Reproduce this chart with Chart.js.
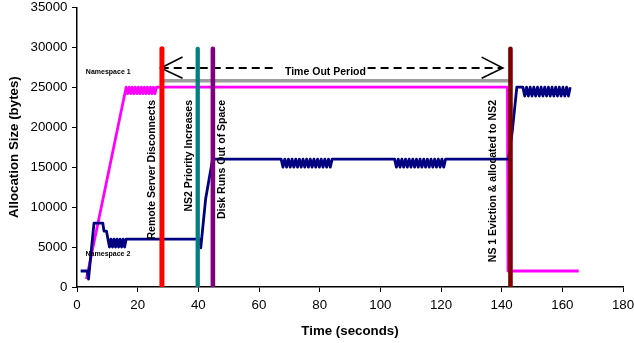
<!DOCTYPE html>
<html><head><meta charset="utf-8">
<script src="https://cdn.jsdelivr.net/npm/chart.js@4/dist/chart.umd.min.js"></script>
<style>html,body{margin:0;padding:0;background:#fff;}canvas{display:block;}</style>
</head><body>
<canvas id="c" width="634" height="343"></canvas>
<script>
// ---------- data ----------
const xTicks = [0, 20, 40, 60, 80, 100, 120, 140, 160, 180];
const yTicks = [0, 5000, 10000, 15000, 20000, 25000, 30000, 35000];

// Namespace 1 (magenta)
const ns1Time = [3.1, 16.2, 16.7, 17.2, 17.7, 18.2, 18.7, 19.2, 19.7, 20.2, 20.7, 21.2, 21.7, 22.2, 22.7, 23.2, 23.7, 24.2, 24.7, 25.2, 25.7, 26.2, 141.9, 142.1, 165.4];
const ns1Bytes = [1000, 25000, 24200, 25000, 24200, 25000, 24200, 25000, 24200, 25000, 24200, 25000, 24200, 25000, 24200, 25000, 24200, 25000, 24200, 25000, 24200, 25000, 25000, 2000, 2000];

// Namespace 2 (navy)
const ns2Time = [1.2, 3.4, 3.8, 5.6, 8.5, 8.9, 9.7, 10.2,
  10.7, 11.2, 11.7, 12.2, 12.7, 13.2, 13.7, 14.2, 14.7, 15.2, 15.7, 16.2,
  40.4, 40.8, 42.4, 44.7,
  67.3, 67.9, 68.5, 69.1, 69.7, 70.3, 70.9, 71.5, 72.1, 72.7, 73.3, 73.9, 74.5, 75.1, 75.7, 76.3, 76.9, 77.5, 78.1, 78.7, 79.3, 79.9, 80.5, 81.1, 81.7, 82.3, 82.9, 83.5, 84.1,
  104.7, 105.3, 105.9, 106.5, 107.1, 107.7, 108.3, 108.9, 109.5, 110.1, 110.7, 111.3, 111.9, 112.5, 113.1, 113.7, 114.3, 114.9, 115.5, 116.1, 116.7, 117.3, 117.9, 118.5, 119.1, 119.7, 120.3, 120.9, 121.5,
  142.3, 143.5, 145.0,
  147.0, 147.6, 148.2, 148.8, 149.4, 150.0, 150.6, 151.2, 151.8, 152.4, 153.0, 153.6, 154.2, 154.8, 155.4, 156.0, 156.6, 157.2, 157.8, 158.4, 159.0, 159.6, 160.2, 160.8, 161.4, 162.0, 162.6];
const ns2Bytes = [2000, 2000, 1000, 8000, 8000, 7000, 7000, 6000,
  5000, 6000, 5000, 6000, 5000, 6000, 5000, 6000, 5000, 6000, 5000, 6000,
  6000, 4900, 11000, 16000,
  16000, 15000, 16000, 15000, 16000, 15000, 16000, 15000, 16000, 15000, 16000, 15000, 16000, 15000, 16000, 15000, 16000, 15000, 16000, 15000, 16000, 15000, 16000, 15000, 16000, 15000, 16000, 15000, 16000,
  16000, 15000, 16000, 15000, 16000, 15000, 16000, 15000, 16000, 15000, 16000, 15000, 16000, 15000, 16000, 15000, 16000, 15000, 16000, 15000, 16000, 15000, 16000, 15000, 16000, 15000, 16000, 15000, 16000,
  16000, 19500, 25000,
  25000, 23900, 25000, 23900, 25000, 23900, 25000, 23900, 25000, 23900, 25000, 23900, 25000, 23900, 25000, 23900, 25000, 23900, 25000, 23900, 25000, 23900, 25000, 23900, 25000, 23900, 25000];

// events (vertical markers)
const eventTime = [28.0, 39.8, 44.8, 142.9];
const eventTop = 29800;
const eventLabels = ['Remote Server Disconnects', 'NS2 Priority Increases', 'Disk Runs Out of Space', 'NS 1 Eviction & allocated to NS2'];
const eventLabelTime = [24.9, 36.8, 47.9, 137.3];
const eventLabelTop = 23400;

// time-out period annotation
const timeoutBandTime = [27.6, 143.5];
const timeoutBandBytes = 25800;
const timeoutArrowTime = [27.6, 65.1, 95.8, 140.4];
const timeoutArrowBytes = 27400;
const arrowHeadTime = [34.8, 27.6, 133.4, 140.4];
const arrowHeadBytes = [28770, 27400, 26120];
const timeoutLabel = 'Time Out Period';
const timeoutLabelPos = [81.9, 26900];

// series name labels
const seriesNames = ['Namespace 1', 'Namespace 2'];
const seriesNameTime = [10.3, 10.2];
const seriesNameBytes = [26940, 4100];

// ---------- styles ----------
const FONT = '"Liberation Sans", Arial, Helvetica, sans-serif';
const eventColors = ['#FF0000', '#008080', '#800080', '#800000'];
const eventWidths = [5, 4.3, 4.6, 4.6];

const pts = (xs, ys) => xs.map((t, i) => ({x: t, y: ys[i]}));

const datasets = [];
eventTime.forEach((t, i) => {
  datasets.push({
    data: [{x: t, y: 0}, {x: t, y: eventTop}],
    borderColor: eventColors[i], borderWidth: eventWidths[i],
    borderCapStyle: 'round', pointRadius: 0,
    clip: {left: 10, right: 10, top: 10, bottom: 0}
  });
});
datasets.push({
  data: [
    {x: timeoutArrowTime[0], y: timeoutArrowBytes}, {x: timeoutArrowTime[1], y: timeoutArrowBytes},
    {x: (timeoutArrowTime[1] + timeoutArrowTime[2]) / 2, y: null},
    {x: timeoutArrowTime[2], y: timeoutArrowBytes}, {x: timeoutArrowTime[3], y: timeoutArrowBytes}
  ],
  borderColor: '#000', borderWidth: 2, borderDash: [8, 5], pointRadius: 0, spanGaps: false
});
datasets.push({
  data: [{x: arrowHeadTime[0], y: arrowHeadBytes[0]}, {x: arrowHeadTime[1], y: arrowHeadBytes[1]}, {x: arrowHeadTime[0], y: arrowHeadBytes[2]}],
  borderColor: '#000', borderWidth: 1.6, pointRadius: 0
});
datasets.push({
  data: [{x: arrowHeadTime[2], y: arrowHeadBytes[0]}, {x: arrowHeadTime[3], y: arrowHeadBytes[1]}, {x: arrowHeadTime[2], y: arrowHeadBytes[2]}],
  borderColor: '#000', borderWidth: 1.6, pointRadius: 0
});
datasets.push({
  data: [{x: timeoutBandTime[0], y: timeoutBandBytes}, {x: timeoutBandTime[1], y: timeoutBandBytes}],
  borderColor: '#9c9c9c', borderWidth: 3.5, pointRadius: 0
});
datasets.push({
  label: 'Namespace 2', data: pts(ns2Time, ns2Bytes),
  borderColor: '#000080', borderWidth: 2.8, pointRadius: 0, borderJoinStyle: 'round'
});
datasets.push({
  label: 'Namespace 1', data: pts(ns1Time, ns1Bytes),
  borderColor: '#FF00FF', borderWidth: 2.8, pointRadius: 0, borderJoinStyle: 'round'
});

const notes = {
  id: 'notes',
  afterDatasetsDraw(chart) {
    const {ctx} = chart;
    const x = chart.scales.x, y = chart.scales.y;
    ctx.save();
    ctx.fillStyle = '#000';
    ctx.font = 'bold 10.5px ' + FONT;
    eventLabels.forEach((txt, i) => {
      ctx.save();
      ctx.translate(x.getPixelForValue(eventLabelTime[i]), y.getPixelForValue(eventLabelTop));
      ctx.rotate(-Math.PI / 2);
      ctx.textAlign = 'right';
      ctx.textBaseline = 'middle';
      ctx.fillText(txt, 0, 0);
      ctx.restore();
    });
    ctx.textAlign = 'center';
    ctx.textBaseline = 'middle';
    ctx.fillText(timeoutLabel, x.getPixelForValue(timeoutLabelPos[0]), y.getPixelForValue(timeoutLabelPos[1]));
    ctx.font = 'bold 7px ' + FONT;
    seriesNames.forEach((txt, i) => {
      ctx.fillText(txt, x.getPixelForValue(seriesNameTime[i]), y.getPixelForValue(seriesNameBytes[i]));
    });
    ctx.restore();
  }
};

new Chart(document.getElementById('c'), {
  type: 'line',
  data: {datasets},
  options: {
    responsive: false, animation: false,
    layout: {padding: 0},
    plugins: {legend: {display: false}, tooltip: {enabled: false}},
    elements: {line: {tension: 0, fill: false}},
    scales: {
      x: {
        type: 'linear', min: 0, max: 180,
        afterBuildTicks(s) { s.ticks = xTicks.map(v => ({value: v})); },
        ticks: {color: '#000', font: {family: FONT, size: 13.3, lineHeight: 1.1}, padding: 6, maxRotation: 0, autoSkip: false, callback: v => String(v)},
        grid: {drawOnChartArea: false, drawTicks: true, tickLength: 5, color: '#000', lineWidth: 1},
        border: {display: true, color: '#000', width: 1.5},
        title: {display: true, text: 'Time (seconds)', color: '#000', font: {family: FONT, size: 13.3, weight: 'bold'}, padding: {top: 0, bottom: 4}},
        afterFit(s) { s.height = 56; s.paddingRight = 11; s.paddingLeft = 0; }
      },
      y: {
        min: 0, max: 35000,
        afterBuildTicks(s) { s.ticks = yTicks.map(v => ({value: v})); },
        ticks: {color: '#000', font: {family: FONT, size: 13.3, lineHeight: 1.1}, padding: 4.5, callback: v => String(v)},
        grid: {drawOnChartArea: false, drawTicks: true, tickLength: 5, color: '#000', lineWidth: 1},
        border: {display: true, color: '#000', width: 1.5},
        title: {display: true, text: 'Allocation Size (bytes)', color: '#000', font: {family: FONT, size: 13.3, weight: 'bold'}, padding: {top: 6.5, bottom: 0}},
        afterFit(s) { s.width = 77; s.paddingTop = 7.3; s.paddingBottom = 0; }
      }
    }
  },
  plugins: [notes]
});
</script>
</body></html>
